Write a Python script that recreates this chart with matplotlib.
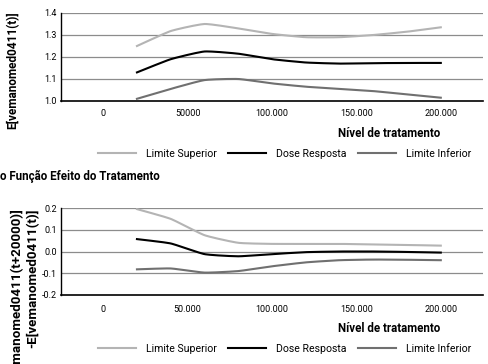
import numpy as np
import matplotlib
matplotlib.use("Agg")
import matplotlib.pyplot as plt

plt.rcParams['font.family'] = ['Roboto', 'DejaVu Sans']

# dados
nivel = [20000, 40000, 60000, 80000, 100000, 120000, 140000, 160000, 180000, 200000]

sup_dose = [1.25, 1.318, 1.35, 1.33, 1.305, 1.29, 1.29, 1.30, 1.315, 1.335]
resp_dose = [1.13, 1.19, 1.225, 1.215, 1.19, 1.175, 1.17, 1.172, 1.173, 1.173]
inf_dose = [1.01, 1.055, 1.095, 1.10, 1.08, 1.065, 1.055, 1.045, 1.03, 1.015]

sup_efeito = [0.195, 0.15, 0.075, 0.04, 0.035, 0.035, 0.035, 0.032, 0.03, 0.027]
resp_efeito = [0.057, 0.037, -0.012, -0.022, -0.012, -0.003, 0.0, 0.0, -0.002, -0.005]
inf_efeito = [-0.082, -0.078, -0.097, -0.09, -0.068, -0.05, -0.04, -0.037, -0.038, -0.04]

xticks = [0, 50000, 100000, 150000, 200000]
xlabels_top = ['0', '50000', '100.000', '150.000', '200.000']
xlabels_bot = ['0', '50.000', '100.000', '150.000', '200.000']

cor_sup = '#b4b4b4'
cor_resp = '#000000'
cor_inf = '#707070'


def suavizar(x, y, s=0.5):
    # curva suave (hermite com tangentes reduzidas)
    x = np.asarray(x, float)
    y = np.asarray(y, float)
    n = len(x)
    mx = np.zeros(n)
    my = np.zeros(n)
    for i in range(n):
        a = max(i - 1, 0)
        b = min(i + 1, n - 1)
        mx[i] = s * (x[b] - x[a]) / (b - a)
        my[i] = s * (y[b] - y[a]) / (b - a)
    xs, ys = [], []
    t = np.linspace(0, 1, 20)
    h00 = 2 * t ** 3 - 3 * t ** 2 + 1
    h10 = t ** 3 - 2 * t ** 2 + t
    h01 = -2 * t ** 3 + 3 * t ** 2
    h11 = t ** 3 - t ** 2
    for i in range(n - 1):
        xs.extend(h00 * x[i] + h10 * mx[i] + h01 * x[i + 1] + h11 * mx[i + 1])
        ys.extend(h00 * y[i] + h10 * my[i] + h01 * y[i + 1] + h11 * my[i + 1])
    return xs, ys


def painel(ax, sup, resp, inf, ylim, yticks, xlabels, xpad):
    ax.plot(*suavizar(nivel, sup), color=cor_sup, lw=1.5, label='Limite Superior')
    ax.plot(*suavizar(nivel, resp), color=cor_resp, lw=1.5, label='Dose Resposta')
    ax.plot(*suavizar(nivel, inf), color=cor_inf, lw=1.5, label='Limite Inferior')
    ax.set_xlim(-25000, 225000)
    ax.set_ylim(*ylim)
    ax.set_yticks(yticks)
    ax.set_yticklabels(['{:.1f}'.format(v) for v in yticks])
    ax.set_xticks(xticks)
    ax.set_xticklabels(xlabels)
    ax.tick_params(axis='both', length=0, labelsize=6.5)
    ax.tick_params(axis='x', pad=xpad)
    ax.tick_params(axis='y', pad=3)
    for v in yticks[1:]:
        ax.axhline(v, color='#8c8c8c', lw=0.9, zorder=0)
    for s in ['top', 'right']:
        ax.spines[s].set_visible(False)
    ax.spines['left'].set_linewidth(1.0)
    ax.spines['bottom'].set_linewidth(1.2)
    ax.set_xlabel('Nível de tratamento', fontsize=8.3, fontweight='bold')
    ax.legend(loc='center', bbox_to_anchor=(0.53, -0.6), ncol=3, frameon=False,
              fontsize=7.6, handlelength=3.6, handletextpad=0.9, columnspacing=1.1,
              borderaxespad=0)


fig = plt.figure(figsize=(4.89, 3.64), dpi=100)

ax1 = fig.add_axes([61 / 489, 1 - 101 / 364, 422 / 489, 88 / 364])
painel(ax1, sup_dose, resp_dose, inf_dose, (1.0, 1.4), [1.0, 1.1, 1.2, 1.3, 1.4], xlabels_top, 6)
ax1.xaxis.set_label_coords(0.777, -0.30)
ax1.get_legend().set_bbox_to_anchor((0.53, -0.6))
ax1.set_ylabel('E[vemanomed0411(t)]', fontsize=8.5, fontweight='bold')
ax1.yaxis.set_label_coords(-0.098, 0.35)

fig.text(0, 1 - 176 / 364, 'o Função Efeito do Tratamento', fontsize=8.3, fontweight='bold',
         va='center', ha='left')

ax2 = fig.add_axes([61 / 489, 1 - 295 / 364, 422 / 489, 87 / 364])
painel(ax2, sup_efeito, resp_efeito, inf_efeito, (-0.2, 0.2), [-0.2, -0.1, 0.0, 0.1, 0.2], xlabels_bot, 7)
ax2.xaxis.set_label_coords(0.777, -0.31)
ax2.get_legend().set_bbox_to_anchor((0.53, -0.62))
ax2.set_ylabel('E[vemanomed0411(t+20000)]\n-E[vemanomed0411(t)]', fontsize=9.6,
               fontweight='bold', multialignment='right', linespacing=1.3)
ax2.yaxis.set_label_coords(-0.052, 1.0)
ax2.yaxis.label.set_horizontalalignment('right')
ax2.yaxis.label.set_verticalalignment('bottom')

fig.savefig('out.png', dpi=100)
